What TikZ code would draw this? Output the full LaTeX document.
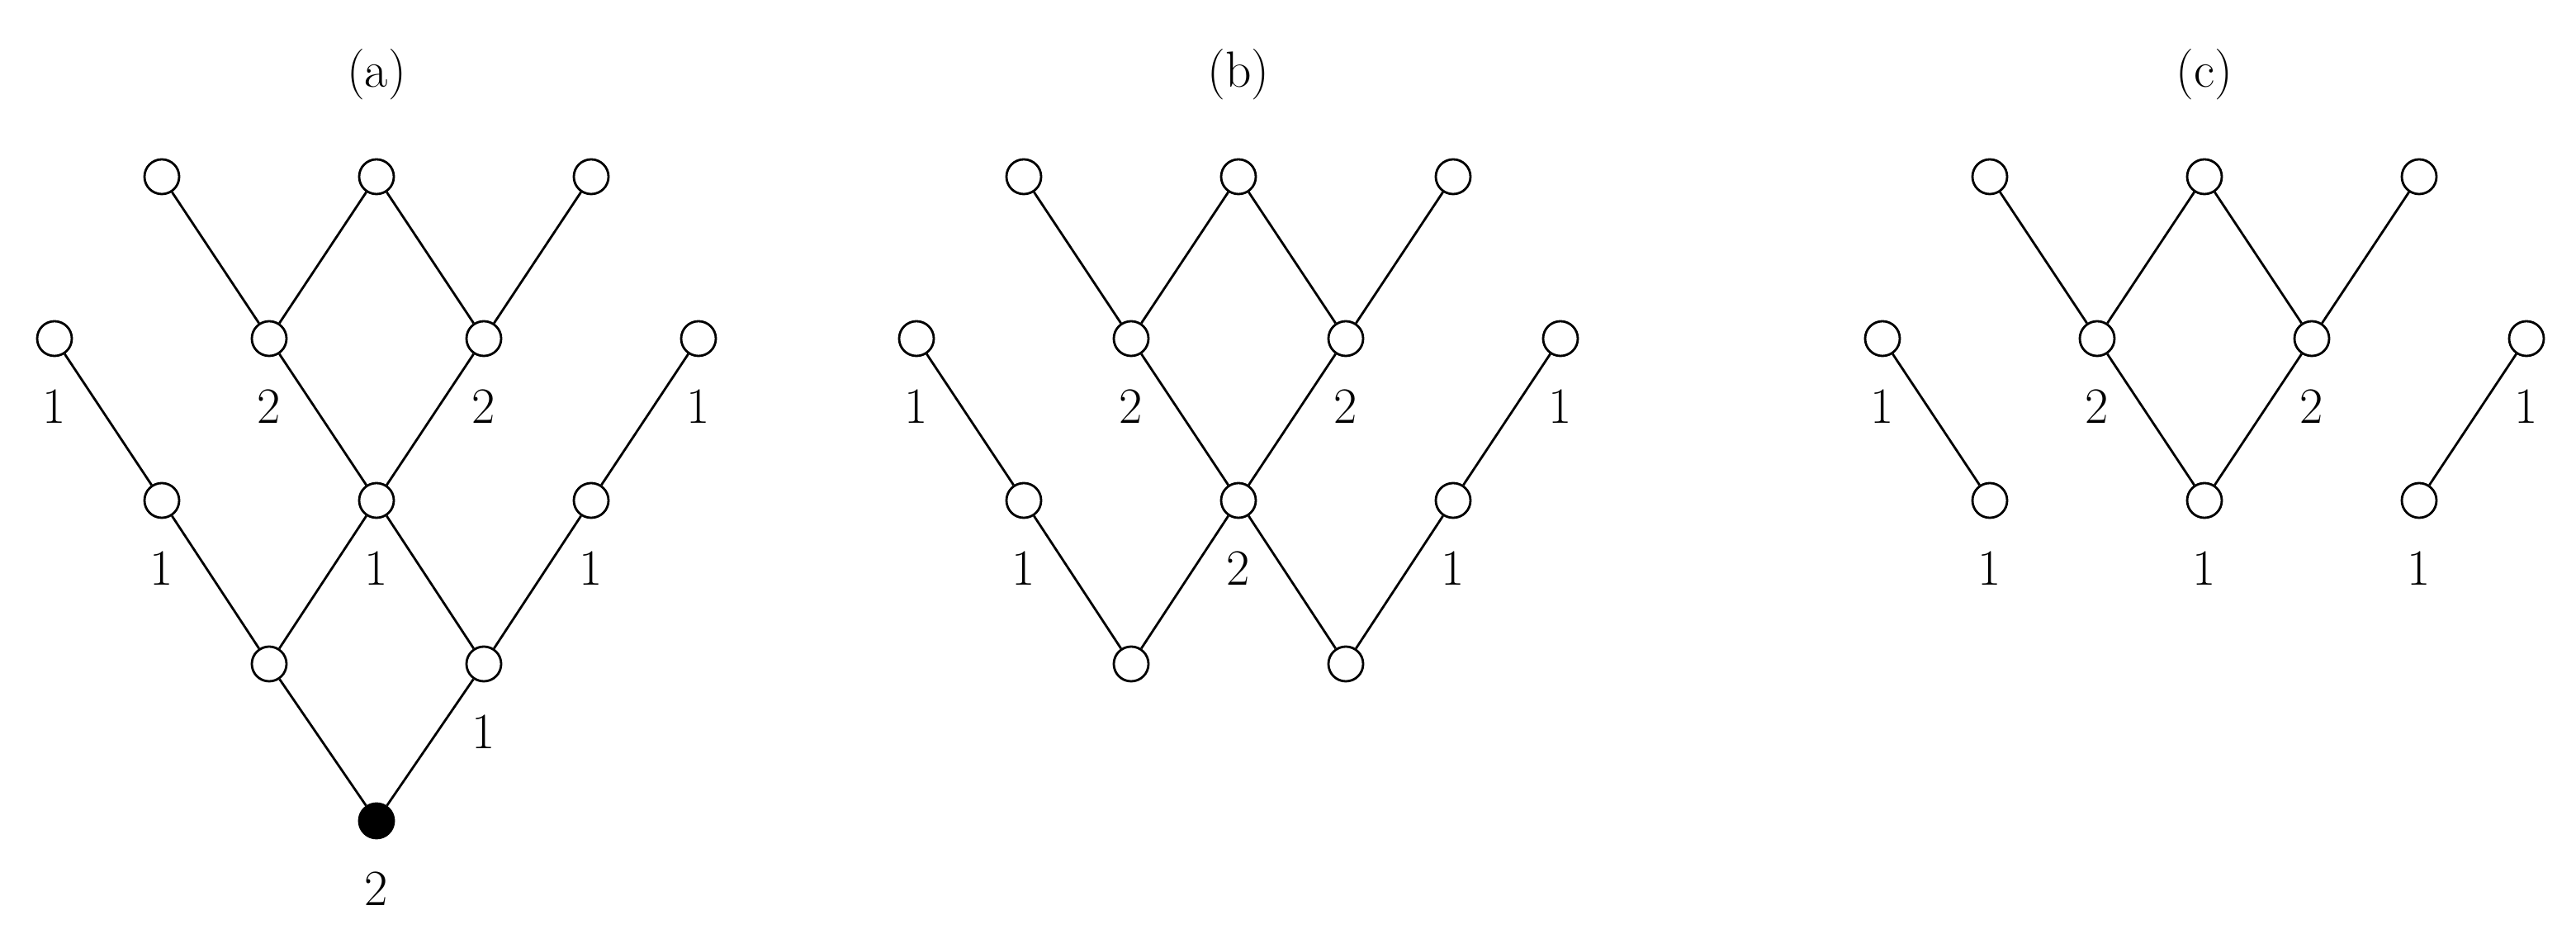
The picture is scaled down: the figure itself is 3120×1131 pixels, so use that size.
\documentclass[tikz,border=0pt]{standalone}
\begin{document}
\begin{tikzpicture}[x=0.01cm,y=-0.01cm,
  vtx/.style={circle,draw,line width=0.8pt,fill=white,minimum size=0.42cm,inner sep=0pt},
  blk/.style={vtx,fill=black},
  lbl/.style={font=\fontsize{17.5}{20}\selectfont,inner sep=0pt},
  edge/.style={line width=0.8pt}]
\useasboundingbox (0,0) rectangle (3120,1131);
\foreach \p/\ox/\t in {a/0/(a),b/1044/(b),c/2214/(c)}{
  \node[lbl] (t\p) at (\ox+456,90) {\t};
  \foreach \r/\c in {0/1,0/3,0/5,1/0,1/2,1/4,1/6}{
    \node[vtx] (\p\r\c) at (\ox+66+130*\c,{214+196*\r}) {};
  }
  \foreach \c in {1,3,5}{ \node[vtx] (\p2\c) at (\ox+66+130*\c,606) {}; }
}
\node[vtx] (a32) at (326,804) {};
\node[vtx] (a34) at (586,804) {};
\node[blk] (a43) at (456,994) {};
\node[vtx] (b32) at (1044+326,804) {};
\node[vtx] (b34) at (1044+586,804) {};
% edges
\begin{scope}[on background layer/.style={}]
\end{scope}
\foreach \p in {a,b,c}{
  \foreach \u/\v in {01/12,03/12,03/14,05/14,10/21,12/23,14/23,16/25}{
    \draw[edge] (\p\u) -- (\p\v);
  }
}
\foreach \p in {a,b}{
  \foreach \u/\v in {21/32,23/32,23/34,25/34}{ \draw[edge] (\p\u) -- (\p\v); }
}
\draw[edge] (a32) -- (a43);
\draw[edge] (a34) -- (a43);
% labels
\foreach \p/\l in {a10/1,a12/2,a14/2,a16/1,a21/1,a23/1,a25/1,a34/1,a43/2,
                   b10/1,b12/2,b14/2,b16/1,b21/1,b23/2,b25/1,
                   c10/1,c12/2,c14/2,c16/1,c21/1,c23/1,c25/1}{
  \node[lbl] (l\p) at ([yshift=-0.82cm]\p) {\l};
}
\end{tikzpicture}
\end{document}
